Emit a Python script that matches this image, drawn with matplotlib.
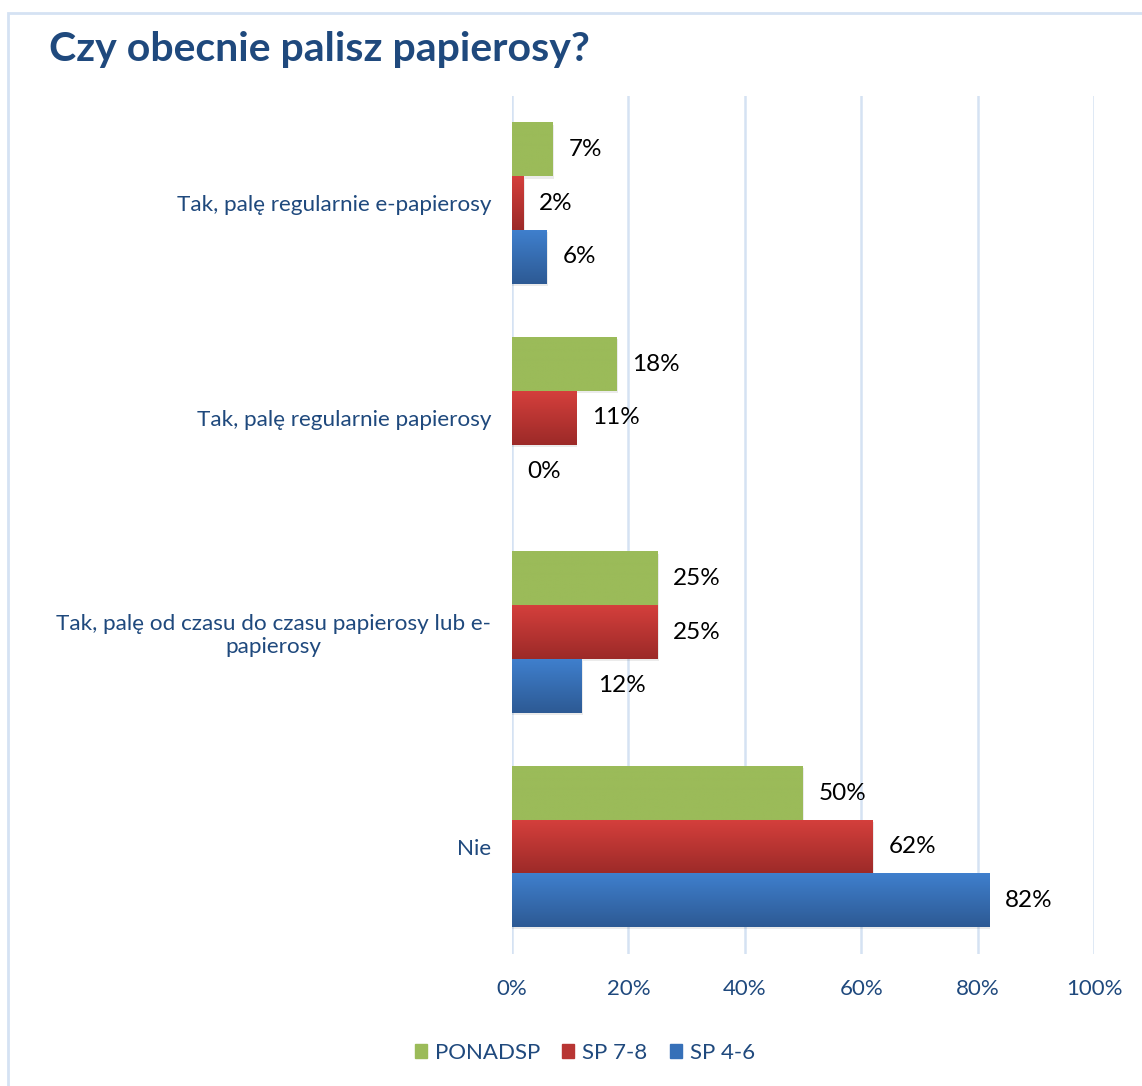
import matplotlib
matplotlib.use("Agg")
import matplotlib.pyplot as plt
import numpy as np
from matplotlib.patches import Rectangle, Patch

kategorie = [
    "Tak, palę regularnie e-papierosy",
    "Tak, palę regularnie papierosy",
    "Tak, palę od czasu do czasu papierosy lub e-\npapierosy",
    "Nie",
]
serie = ["PONADSP", "SP 7-8", "SP 4-6"]
ponadsp = [7, 18, 25, 50]
sp78 = [2, 11, 25, 62]
sp46 = [6, 0, 12, 82]
ticki = [0, 20, 40, 60, 80, 100]

plt.rcParams['font.family'] = ['Lato', 'DejaVu Sans']

niebieski_txt = "#1F497D"
siatka = "#D5E2F3"
# kolory: (gora, dol) dla gradientu
kolory = [("#9BBB59", "#9BBB59"), ("#D43F3C", "#9C2A28"), ("#3F7FCD", "#2D5A94")]

fig = plt.figure(figsize=(11.42, 10.86), dpi=100)
ax = fig.add_axes([512 / 1142, 1 - 954 / 1086, (1094 - 512) / 1142, (954 - 96) / 1086])

n = len(kategorie)
pos = np.arange(n)[::-1]
h = 0.25
dane = [ponadsp, sp78, sp46]
przes = [h, 0, -h]

for s, wart in enumerate(dane):
    top, bot = kolory[s]
    c1 = np.array(matplotlib.colors.to_rgb(top))
    c2 = np.array(matplotlib.colors.to_rgb(bot))
    grad = np.linspace(0, 1, 50)[:, None, None]
    img = c1 * (1 - grad) + c2 * grad
    for i, v in enumerate(wart):
        y = pos[i] + przes[s]
        if v > 0:
            # cien
            ax.add_patch(Rectangle((0, y - h / 2 - 0.01), v + 0.2, h, color="#000000",
                                   alpha=0.08, lw=0, zorder=2))
            ax.imshow(img, extent=(0, v, y - h / 2, y + h / 2), aspect='auto',
                      origin='upper', zorder=3, interpolation='bilinear')
        ax.text(v + 2.7, y, f"{v}%", va='center', ha='left', fontsize=17.5,
                color="black", zorder=4)

ax.set_xlim(0, 100)
ax.set_ylim(-0.5, n - 0.5)
ax.set_xticks(ticki)
ax.set_xticklabels([f"{t}%" for t in ticki], fontsize=16, color=niebieski_txt)
ax.set_yticks(pos)
ax.set_yticklabels(kategorie, fontsize=16.2, color=niebieski_txt, multialignment='center')
ax.tick_params(axis='x', length=0, pad=18)
ax.tick_params(axis='y', length=0, pad=15)
ax.grid(axis='x', color=siatka, lw=1.8, zorder=0)
ax.set_axisbelow(True)
for sp in ax.spines.values():
    sp.set_visible(False)

fig.text(49 / 1142, 1 - 50 / 1086, "Czy obecnie palisz papierosy?", fontsize=29.5,
         fontweight='bold', color="#1F497D", va='center', ha='left')

fig.patches.append(Rectangle((8 / 1142, -0.05), 1.1, 1 - 13 / 1086 + 0.05,
                             transform=fig.transFigure, fill=False, ec=siatka, lw=2))

uchwyty = [Patch(color=kolory[0][0]), Patch(color="#B83533"), Patch(color="#3670B8")]
fig.legend(uchwyty, serie, loc='center', bbox_to_anchor=(0.512, 1 - 1053 / 1086), ncol=3,
           frameon=False, fontsize=16, handlelength=0.55, handleheight=0.55,
           handletextpad=0.35, columnspacing=1.0, labelcolor=niebieski_txt)

fig.savefig("out.png", dpi=100)
